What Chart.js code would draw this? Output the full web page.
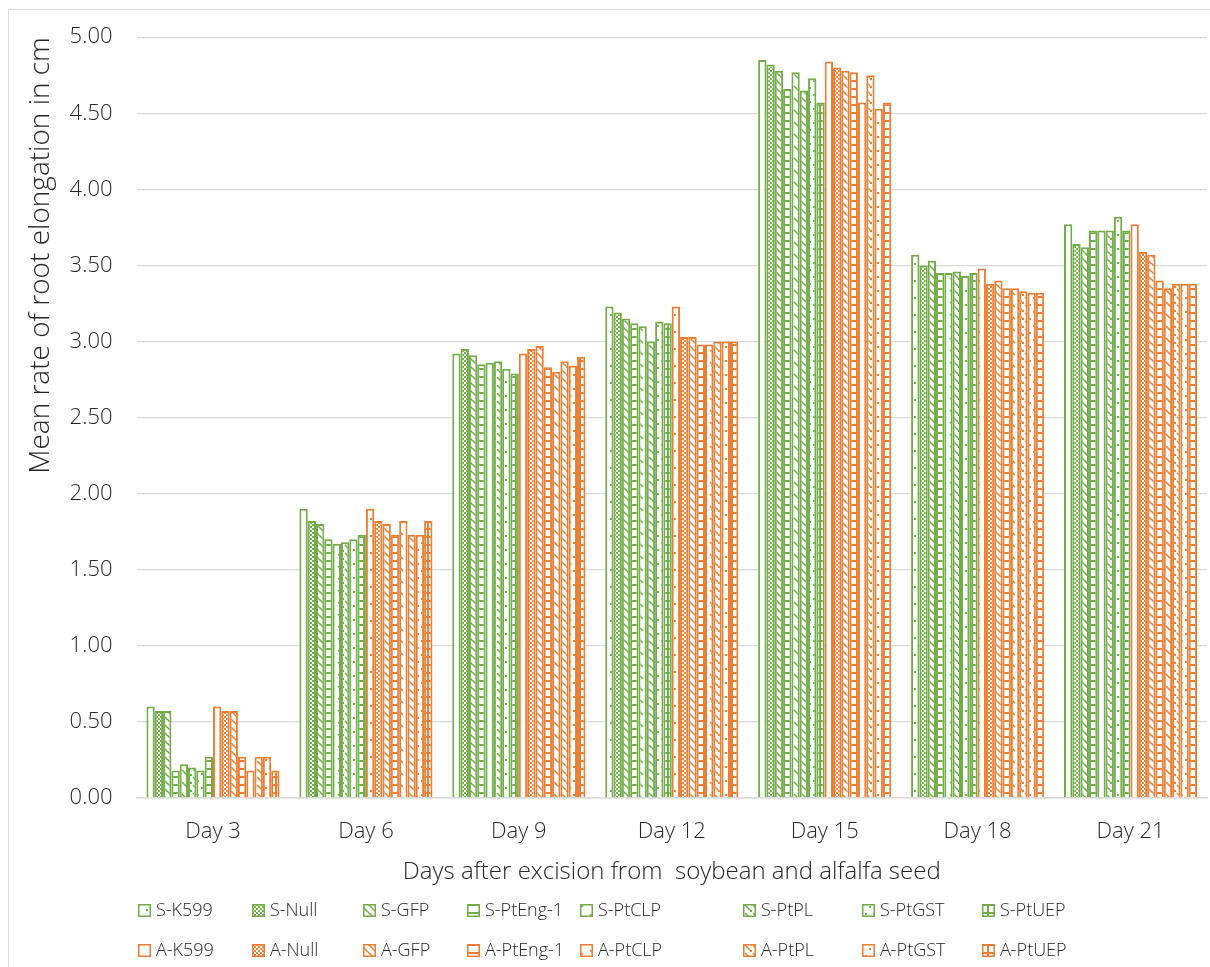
<!DOCTYPE html>
<html>
<head>
<meta charset="utf-8">
<script src="https://cdn.jsdelivr.net/npm/chart.js@4/dist/chart.umd.min.js"></script>
<style>
  html, body { margin: 0; padding: 0; background: #fff; }
  #wrap { position: relative; width: 1210px; height: 967px; }
</style>
</head>
<body>
<div id="wrap"><canvas id="c" width="1210" height="967"></canvas></div>
<script>
// Days after excision
const categories = ['Day 3', 'Day 6', 'Day 9', 'Day 12', 'Day 15', 'Day 18', 'Day 21'];

// Soybean (S-) lines
const S_K599   = [0.60, 1.90, 2.92, 3.23, 4.85, 3.57, 3.77];
const S_Null   = [0.57, 1.82, 2.95, 3.19, 4.82, 3.50, 3.64];
const S_GFP    = [0.57, 1.80, 2.91, 3.15, 4.78, 3.53, 3.62];
const S_PtEng1 = [0.18, 1.70, 2.85, 3.12, 4.66, 3.45, 3.73];
const S_PtCLP  = [0.22, 1.67, 2.86, 3.10, 4.77, 3.45, 3.73];
const S_PtPL   = [0.20, 1.68, 2.87, 3.00, 4.65, 3.46, 3.73];
const S_PtGST  = [0.18, 1.70, 2.82, 3.13, 4.73, 3.43, 3.82];
const S_PtUEP  = [0.27, 1.73, 2.79, 3.12, 4.57, 3.45, 3.73];

// Alfalfa (A-) lines
const A_K599   = [0.60, 1.90, 2.92, 3.23, 4.84, 3.48, 3.77];
const A_Null   = [0.57, 1.82, 2.95, 3.03, 4.80, 3.38, 3.59];
const A_GFP    = [0.57, 1.80, 2.97, 3.03, 4.78, 3.40, 3.57];
const A_PtEng1 = [0.27, 1.73, 2.83, 2.98, 4.77, 3.35, 3.40];
const A_PtCLP  = [0.18, 1.82, 2.80, 2.98, 4.57, 3.35, 3.35];
const A_PtPL   = [0.27, 1.73, 2.87, 3.00, 4.75, 3.33, 3.38];
const A_PtGST  = [0.27, 1.73, 2.84, 3.00, 4.53, 3.32, 3.38];
const A_PtUEP  = [0.18, 1.82, 2.90, 3.00, 4.57, 3.32, 3.38];

const seriesNames = ['S-K599', 'S-Null', 'S-GFP', 'S-PtEng-1', 'S-PtCLP', 'S-PtPL', 'S-PtGST', 'S-PtUEP',
                     'A-K599', 'A-Null', 'A-GFP', 'A-PtEng-1', 'A-PtCLP', 'A-PtPL', 'A-PtGST', 'A-PtUEP'];
const seriesValues = [S_K599, S_Null, S_GFP, S_PtEng1, S_PtCLP, S_PtPL, S_PtGST, S_PtUEP,
                      A_K599, A_Null, A_GFP, A_PtEng1, A_PtCLP, A_PtPL, A_PtGST, A_PtUEP];
const yTicks = [0, 0.5, 1, 1.5, 2, 2.5, 3, 3.5, 4, 4.5, 5];

const GREEN = '#70AD47';
const ORANGE = '#ED7D31';
const FONT = "'Open Sans', 'Segoe UI', sans-serif";
const TEXT = '#262626';

// Hatch fills, one style per construct
function makePattern(kind, color) {
  const c = document.createElement('canvas');
  const size = { k599: [16, 17], nul: [4, 4], gfp: [8, 8], eng: [8, 8], clp: [12, 12],
                 pl: [8, 8], gst: [8, 14], uep: [8, 8] }[kind];
  c.width = size[0]; c.height = size[1];
  const g = c.getContext('2d');
  g.fillStyle = '#fff';
  g.fillRect(0, 0, c.width, c.height);
  g.fillStyle = color;
  g.strokeStyle = color;
  g.lineWidth = 1.5;
  switch (kind) {
    case 'k599':
      g.fillRect(2, 8, 2, 2);
      break;
    case 'nul':
      g.fillRect(0, 0, 2, 2); g.fillRect(2, 2, 2, 2);
      break;
    case 'gfp':
      g.beginPath(); g.moveTo(0, 0); g.lineTo(8, 8); g.stroke();
      g.beginPath(); g.moveTo(-1, 7); g.lineTo(1, 9); g.stroke();
      g.beginPath(); g.moveTo(7, -1); g.lineTo(9, 1); g.stroke();
      break;
    case 'eng':
      g.fillRect(0, 0, 8, 2);
      break;
    case 'clp':
      g.beginPath(); g.moveTo(2, 2); g.lineTo(7, 7); g.stroke();
      break;
    case 'pl':
      g.beginPath(); g.moveTo(1, 1); g.lineTo(6, 6); g.stroke();
      g.fillRect(6, 6, 2, 2);
      break;
    case 'gst':
      g.fillRect(1, 3, 2, 2); g.fillRect(5, 10, 2, 2);
      break;
    case 'uep':
      g.fillRect(0, 0, 8, 2); g.fillRect(3, 0, 2, 8);
      break;
  }
  return document.getElementById('c').getContext('2d').createPattern(c, 'repeat');
}

const kinds = ['k599', 'nul', 'gfp', 'eng', 'clp', 'pl', 'gst', 'uep'];

const datasets = seriesNames.map((name, i) => {
  const color = i < 8 ? GREEN : ORANGE;
  return {
    label: name,
    data: seriesValues[i],
    backgroundColor: makePattern(kinds[i % 8], color),
    borderColor: color,
    borderWidth: 2,
    borderSkipped: 'start',
    barPercentage: 1.0,
    categoryPercentage: 0.87
  };
});

// Legend in two rows of eight, drawn under the axis title
const legendCols = [138, 252, 363, 467, 580, 743, 862, 982];
const legendRows = [910, 950];

const pagePlugin = {
  id: 'page',
  beforeDraw(chart) {
    const ctx = chart.ctx;
    ctx.save();
    ctx.fillStyle = '#fff';
    ctx.fillRect(0, 0, chart.width, chart.height);
    ctx.strokeStyle = '#d9d9d9';
    ctx.lineWidth = 1;
    ctx.beginPath();
    ctx.moveTo(8.5, chart.height);
    ctx.lineTo(8.5, 9.5);
    ctx.lineTo(chart.width, 9.5);
    ctx.stroke();
    ctx.restore();
  },
  afterDraw(chart) {
    const ctx = chart.ctx;
    ctx.save();
    ctx.font = '300 18px ' + FONT;
    ctx.textBaseline = 'middle';
    chart.data.datasets.forEach((ds, i) => {
      const x = legendCols[i % 8];
      const y = legendRows[Math.floor(i / 8)];
      ctx.fillStyle = ds.backgroundColor;
      ctx.fillRect(x, y - 6, 13, 13);
      ctx.strokeStyle = ds.borderColor;
      ctx.lineWidth = 1.5;
      ctx.strokeRect(x + 0.75, y - 5.25, 11.5, 11.5);
      ctx.fillStyle = TEXT;
      ctx.fillText(ds.label, x + 18, y + 1);
    });
    ctx.restore();
  }
};

new Chart(document.getElementById('c'), {
  type: 'bar',
  data: { labels: categories, datasets },
  options: {
    responsive: false,
    animation: false,
    layout: { padding: { top: 33, right: 3, bottom: 80, left: 24 } },
    plugins: {
      legend: { display: false },
      tooltip: { enabled: false }
    },
    scales: {
      x: {
        grid: { display: false, drawTicks: false },
        border: { display: true, color: '#d9d9d9', width: 1.5 },
        ticks: { color: TEXT, font: { family: FONT, size: 22, weight: 300 }, padding: 21 },
        title: {
          display: true,
          text: 'Days after excision from  soybean and alfalfa seed',
          color: TEXT,
          font: { family: FONT, size: 24, weight: 300 },
          padding: { top: -8, bottom: 0 }
        }
      },
      y: {
        min: 0,
        max: 5,
        afterBuildTicks(axis) { axis.ticks = yTicks.map(v => ({ value: v })); },
        grid: { color: '#d9d9d9', lineWidth: 1.3, drawTicks: false },
        border: { display: false },
        ticks: {
          color: TEXT,
          font: { family: FONT, size: 22, weight: 300 },
          padding: 24,
          callback: v => Number(v).toFixed(2)
        },
        title: {
          display: true,
          text: 'Mean rate of root elongation in cm',
          align: 'end',
          color: TEXT,
          font: { family: FONT, size: 28, weight: 300 },
          padding: { top: 0, bottom: -12 }
        }
      }
    }
  },
  plugins: [pagePlugin]
});
</script>
</body>
</html>
